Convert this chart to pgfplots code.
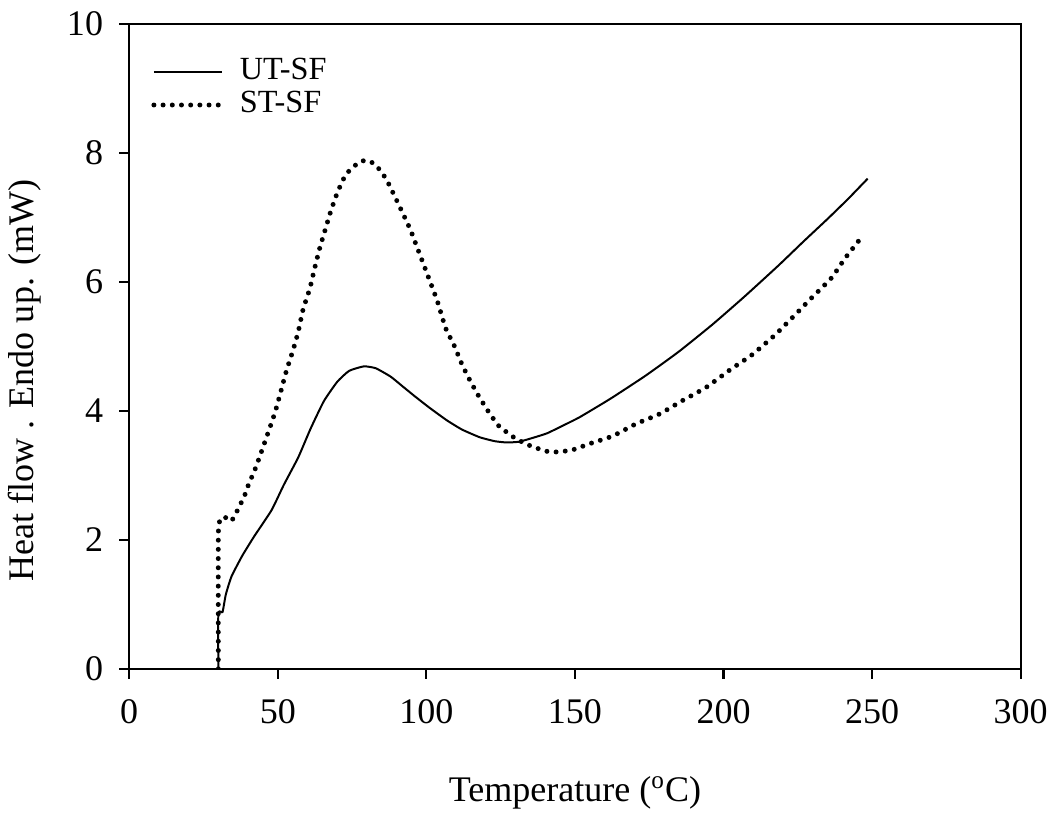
\documentclass[border=0pt]{standalone}
\usepackage{fontspec}
\setmainfont{Liberation Serif}
\usepackage{pgfplots}
\pgfplotsset{compat=1.18}
\begin{document}
\begin{tikzpicture}
\begin{axis}[
  name=ax,
  scale only axis,
  width=358.8pt, height=259.6pt,
  xmin=0, xmax=300, ymin=0, ymax=10,
  xtick={0,50,100,150,200,250,300},
  ytick={0,2,4,6,8,10},
  tick align=outside,
  major tick length=4pt,
  xtick pos=bottom, ytick pos=left,
  axis line style={line width=0.9pt},
  every tick/.style={line width=0.9pt, black},
  /pgf/number format/assume math mode=true,
  ticklabel style={font=\fontsize{14.5}{14.5}\selectfont},
  yticklabel style={xshift=-3pt},
  xticklabel style={yshift=-5pt},
  xlabel={Temperature (\textsuperscript{o}C)},
  ylabel={Heat flow . Endo up. (mW)},
  label style={font=\fontsize{14.5}{14.5}\selectfont},
  xlabel style={at={(axis description cs:0.5,-0.192)}, anchor=center},
  ylabel style={at={(axis description cs:-0.117,0.447)}, anchor=center},
  legend style={draw=none, fill=none, at={(axis description cs:0.016,0.962)}, anchor=north west,
    font=\fontsize{13}{13}\selectfont, row sep=-1.6pt, column sep=4pt,
    nodes={inner sep=2pt, text height=8.5pt, text depth=2.3pt}},
  legend cell align=left,
  legend image code/.code={\draw[#1] (0pt,0pt) -- (27.6pt,0pt);},
]
\addplot[black, line width=0.8pt, line join=round, smooth, tension=0.3] coordinates {
(30,0) (30,0.86) (31.4,0.88) (32.5,1.15) (34.4,1.43) (38,1.75) (42,2.05) (47.9,2.46) (52,2.85) (56.9,3.28) (61,3.72) (65.5,4.15) (70,4.45) (74,4.62) (79,4.69) (83,4.66) (88,4.53) (92,4.38) (96,4.23) (101,4.05) (107,3.85) (112,3.71) (118,3.59) (123,3.53) (127,3.51) (131,3.52) (135,3.57) (140.5,3.65) (145,3.75) (151.5,3.9) (162,4.19) (173.9,4.55) (185,4.92) (196.3,5.34) (207,5.77) (218.4,6.25) (227,6.63) (235.1,6.98) (242,7.29) (248.5,7.6)
};
\addlegendentry{UT-SF}
\addplot[black, line width=2pt, line cap=round, dash pattern=on 0pt off 3.7pt, smooth, tension=0.3] coordinates {
(30,0) (30,2.1) (30.9,2.34) (32.3,2.35) (34.3,2.29) (35.9,2.41) (37.3,2.54) (38.7,2.67) (40.1,2.85) (42.4,3.1) (44.6,3.38) (46.8,3.67) (49.1,3.98) (50.9,4.28) (52.9,4.62) (55.2,4.95) (56.9,5.23) (58.5,5.57) (60.8,5.9) (62.4,6.21) (64.1,6.52) (66.1,6.83) (68,7.12) (70.2,7.4) (73,7.67) (77.5,7.86) (80.3,7.88) (83,7.81) (86.4,7.6) (89.2,7.34) (92,7.07) (94.7,6.8) (97,6.52) (100.3,6.12) (103.7,5.7) (106.5,5.28) (109.2,5.03) (112,4.72) (114.8,4.46) (117.6,4.23) (121,3.98) (124.3,3.77) (127.6,3.65) (130.4,3.56) (134.9,3.46) (139.9,3.38) (142.7,3.36) (148.8,3.39) (154.9,3.49) (162.7,3.61) (170.6,3.8) (178.4,3.95) (186.2,4.16) (194,4.36) (202.3,4.64) (209.6,4.87) (217.4,5.18) (224.1,5.49) (229.6,5.75) (236.3,6.06) (240.8,6.36) (244.7,6.59) (246.9,6.72)
};
\addlegendentry{ST-SF}
\end{axis}
\path (ax.south west) ++(-52pt,-57.2pt) rectangle ++(422.4pt,326.4pt);
\end{tikzpicture}
\end{document}
